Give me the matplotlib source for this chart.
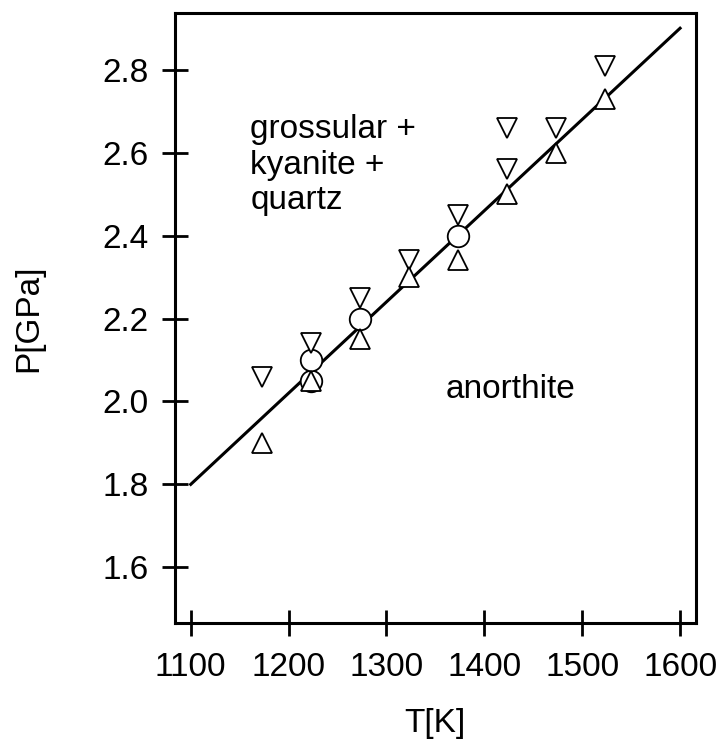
#!/usr/bin/env python3
# Anorthite breakdown curve: grossular + kyanite + quartz = anorthite
import matplotlib
matplotlib.use("Agg")
import matplotlib.pyplot as plt

plt.rcParams['font.family'] = ['Liberation Sans', 'DejaVu Sans']

# reaction boundary end points
line_T = [1100, 1600]
line_P = [1.8, 2.9]

# experiments, open circles
circ_T = [1223, 1223, 1273, 1373]
circ_P = [2.05, 2.10, 2.20, 2.40]

# experiments, down triangles
down_T = [1173, 1223, 1273, 1323, 1373, 1423, 1423, 1473, 1523]
down_P = [2.06, 2.14, 2.25, 2.34, 2.45, 2.66, 2.56, 2.66, 2.81]

# experiments, up triangles
up_T = [1173, 1223, 1273, 1323, 1373, 1423, 1473, 1523]
up_P = [1.90, 2.05, 2.15, 2.30, 2.34, 2.50, 2.60, 2.73]

x_ticks = [1100, 1200, 1300, 1400, 1500, 1600]
y_ticks = [1.6, 1.8, 2.0, 2.2, 2.4, 2.6, 2.8]

fs = 24

fig = plt.figure(figsize=(7.2, 7.47), dpi=100)
ax = fig.add_axes([0.2426, 0.1656, 0.7237, 0.8166])

ax.plot(line_T, line_P, color='black', lw=2.2, zorder=2)
ax.plot(circ_T, circ_P, 'o', ms=15.5, mfc='white', mec='black', mew=1.3, zorder=3)
ax.plot(down_T, down_P, 'v', ms=14, mfc='white', mec='black', mew=1.3, zorder=4)
ax.plot(up_T, up_P, '^', ms=14, mfc='white', mec='black', mew=1.3, zorder=4)

ax.text(1161, 2.57, "grossular +\nkyanite +\nquartz", fontsize=fs,
        ha='left', va='center', linespacing=1.2)
ax.text(1427, 2.03, "anorthite", fontsize=fs, ha='center', va='center')

ax.set_xlim(1083.6, 1616)
ax.set_ylim(1.465, 2.936)
ax.set_xticks(x_ticks)
ax.set_yticks(y_ticks)
ax.set_yticklabels(["%.1f" % v for v in y_ticks])

for s in ax.spines.values():
    s.set_linewidth(2.2)
ax.tick_params(direction='inout', length=19, width=2.0, labelsize=fs)
ax.tick_params(axis='y', pad=9)
ax.tick_params(axis='x', pad=11)

ax.set_xlabel("T[K]", fontsize=fs, labelpad=18)
ax.set_ylabel("P[GPa]", fontsize=fs, labelpad=42)

fig.savefig("out.png", dpi=100)
